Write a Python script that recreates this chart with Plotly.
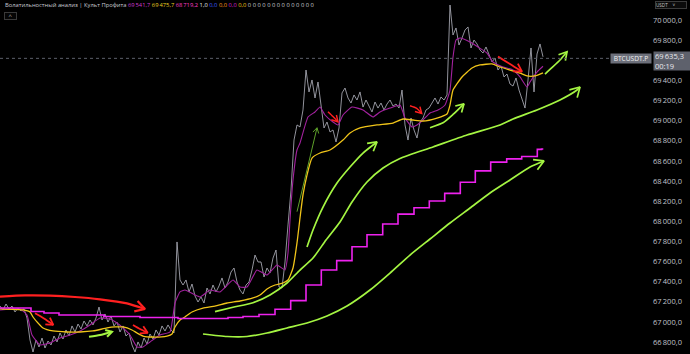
import math
import plotly.graph_objects as go

# ---------------- data ----------------
# BTCUSDT.P price, one sample every 3 minutes (t in minutes from the left edge)
price = [
    67158, 67119, 67178, 67129, 67158, 67099, 67138, 67109, 67129, 67039,
    66820, 66701, 66820, 66751, 66840, 66741, 66810, 66771, 66860, 66801,
    66890, 66830, 66920, 66860, 66960, 66900, 66979, 66930, 67009, 66960,
    67019, 66970, 67039, 67148, 67019, 67079, 66999, 67059, 66960, 66999,
    66900, 66960, 66860, 66890, 66771, 66701, 66801, 66741, 66840, 66781,
    66880, 66830, 66920, 66870, 66960, 66910, 66970, 66920, 66890, 67795,
    67417, 67367, 67417, 67298, 67377, 67258, 67198, 67248, 67188, 67337,
    67278, 67367, 67298, 67357, 67437, 67337, 67397, 67496, 67536, 67397,
    67317, 67278, 67367, 67397, 67516, 67665, 67596, 67596, 67447, 67536,
    67486, 67635, 67715, 67347, 67337, 67596, 67964, 68311, 68808, 68958,
    68938, 69107, 69504, 69286, 69405, 69226, 69385, 69156, 68928, 68987,
    68888, 68908, 68789, 68928, 69276, 69325, 69226, 69176, 69256, 69206,
    69286, 69136, 69206, 69146, 69087, 69186, 69126, 69176, 69107, 69166,
    69206, 69146, 69166, 69126, 69305, 68958, 68808, 69027, 68908, 68828,
    68987, 69027, 69107, 69126, 69176, 69226, 69166, 69236, 69206, 69256,
    70150, 69852, 69922, 69753, 69822, 69902, 69932, 69723, 69802, 69763,
    69703, 69673, 69733, 69653, 69584, 69623, 69504, 69544, 69435, 69464,
    69365, 69345, 69425, 69305, 69206, 69126, 69405, 69723, 69286, 69663,
    69763, 69635.3,
]
price_step = 3
price_t = [i * price_step for i in range(len(price))]

# purple moving average
ma_t = [0, 20, 27, 32, 40, 50, 60, 70, 80, 90, 100, 110, 117, 123, 130, 137, 143, 150, 160, 170,
        175, 180, 185, 200, 210, 220, 233, 240, 247, 257, 267, 277, 285, 288, 290, 293, 297, 300,
        308, 315, 320, 325, 333, 338, 343, 352, 363, 373, 380, 390, 400, 405, 412, 417, 423, 430,
        438, 445, 450, 453, 456, 460, 470, 478, 487, 493, 503, 513, 520, 527, 530, 537, 543]
ma_v = [67119, 67129, 67069, 66870, 66771, 66791, 66840, 66870, 66910, 66970, 67039, 67029, 66989,
        66940, 66870, 66751, 66751, 66801, 66870, 66900, 67188, 67298, 67317, 67248, 67317, 67298,
        67417, 67347, 67347, 67516, 67466, 67566, 67516, 67685, 68013, 68411, 68709, 68779, 69037,
        69087, 69136, 69057, 68987, 68958, 69057, 69136, 69107, 69037, 69087, 69126, 69156, 69027,
        68938, 68958, 69007, 69077, 69107, 69156, 69305, 69633, 69802, 69822, 69783, 69733, 69673,
        69584, 69534, 69504, 69435, 69335, 69385, 69484, 69541.7]

# yellow (VWAP-like) line
vw_t = [0, 23, 30, 33, 38, 43, 53, 67, 80, 93, 107, 115, 123, 132, 137, 143, 153, 167, 172, 175,
        180, 185, 192, 203, 215, 227, 240, 253, 260, 267, 275, 283, 288, 293, 297, 300, 303, 307,
        312, 320, 330, 343, 350, 360, 377, 393, 403, 413, 423, 437, 447, 450, 453, 462, 472, 480,
        492, 500, 510, 520, 527, 535, 543]
vw_v = [67129, 67119, 67099, 67049, 66989, 66940, 66910, 66900, 66900, 66910, 66940, 66950, 66950,
        66920, 66890, 66860, 66850, 66860, 66880, 66950, 67019, 67049, 67099, 67138, 67158, 67188,
        67208, 67238, 67268, 67327, 67367, 67387, 67417, 67536, 67785, 68033, 68262, 68460, 68629,
        68679, 68709, 68808, 68878, 68928, 68958, 68977, 69017, 69007, 68997, 69027, 69067, 69156,
        69305, 69435, 69524, 69554, 69564, 69534, 69504, 69474, 69445, 69445, 69475.7]

# magenta step line (value from each start time)
stair_t = [0, 31, 44, 59, 104, 140, 178, 228, 243, 259, 275, 290.7, 306, 321.3, 336.7, 352, 367,
           382.7, 398, 414, 429.3, 444.7, 460.3, 475.3, 490.7, 506.7, 521.7, 537.3, 541.5, 543.3]
stair_v = [67138, 67104, 67089, 67069, 67054, 67044, 67034, 67044, 67054, 67074, 67126, 67212,
           67367, 67516, 67609, 67748, 67867, 67973, 68072, 68135, 68202, 68278, 68389, 68501,
           68588, 68621, 68645, 68715, 68719.2, 68719.2]

# hand drawn arrows (t, price)
red_1 = ([0, 25, 50, 75, 100, 127, 145], [67251, 67263, 67261, 67248, 67225, 67185, 67128])
red_2 = ([35, 44, 53.3], [67086, 67034, 66970])
red_3 = ([133, 140, 147.7], [66970, 66930, 66892])
red_4 = ([328, 333, 338], [69090, 69042, 68989])
red_5 = ([410, 416.7, 421.7], [69149, 69123, 69073])
red_6 = ([498, 510, 522], [69637, 69564, 69488])
green_1 = ([89, 100, 112], [66853, 66870, 66903])
green_2 = ([203, 227, 247, 267, 287, 307, 327, 347, 370, 390, 410, 430, 450, 470, 490, 510, 530, 544],
           [66880, 66855, 66855, 66890, 66940, 66989, 67059, 67158, 67317, 67486, 67665, 67824,
            67983, 68132, 68282, 68411, 68540, 68600])
green_3 = ([215, 233, 253, 270, 287, 300, 313, 326, 340, 352, 367, 383, 400, 433, 467, 500, 513,
            537, 560, 577, 580],
           [67102, 67146, 67191, 67268, 67387, 67516, 67635, 67814, 67993, 68192, 68391, 68530,
            68625, 68739, 68858, 68958, 69017, 69107, 69206, 69305, 69335])
green_4 = ([307, 313, 323, 337, 350, 363, 377], [67745, 67914, 68142, 68381, 68540, 68679, 68789])
green_5 = ([297, 317], [68096, 68930])
green_6 = ([430, 443, 453, 464], [68930, 68979, 69062, 69168])
green_7 = ([545, 553, 560, 567], [69464, 69537, 69604, 69686])

# legend values
legend_title = "Волатильностный анализ | Культ Профита"
legend_values = [69541.7, 69475.7, 68719.2, 1.0, 0.0, 0.0, 0.0, 0.0]
legend_colors = ["#d03ad0", "#f0d020", "#ff3fc8", "#e8e8e8", "#3a5cff", "#ff9a1a", "#d020d0", "#f0c419"]
legend_zero_count = 14

tick_vals = [v for v in range(66800, 70001, 200) if v != 69600]
last_price = 69635.3
countdown = "00:19"
symbol = "BTCUSDT.P"

# ---------------- layout helpers ----------------
W, H = 690, 354
plot_w = 652
t_range = [0, 652]
y_range = [66681.2, 70200]
k = H / (y_range[1] - y_range[0])


def fmt(v, dec=1):
    s = f"{v:,.{dec}f}"
    return s.replace(",", "\u2009").replace(".", ",")


def head(ts, vs, L=8.0, ang=30):
    x1, y1 = ts[-1], (y_range[1] - vs[-1]) * k
    x0, y0 = ts[-2], (y_range[1] - vs[-2]) * k
    dx, dy = x1 - x0, y1 - y0
    n = math.hypot(dx, dy) or 1
    dx, dy = dx / n, dy / n
    out_t, out_v = [], []
    for s in (1, -1):
        a = math.radians(ang) * s
        rx = dx * math.cos(a) - dy * math.sin(a)
        ry = dx * math.sin(a) + dy * math.cos(a)
        out_t.append(x1 - L * rx)
        out_v.append(y_range[1] - (y1 - L * ry) / k)
    return [out_t[0], x1, out_t[1]], [out_v[0], vs[-1], out_v[1]]


fig = go.Figure()

fig.add_trace(go.Scatter(x=price_t, y=price, mode="lines",
                         line=dict(color="rgba(170,172,182,0.85)", width=1)))
fig.add_trace(go.Scatter(x=ma_t, y=ma_v, mode="lines",
                         line=dict(color="#a3229f", width=1.1, shape="spline", smoothing=0.4)))
fig.add_trace(go.Scatter(x=vw_t, y=vw_v, mode="lines",
                         line=dict(color="#f0c419", width=1.3, shape="spline", smoothing=0.5)))
fig.add_trace(go.Scatter(x=stair_t, y=stair_v, mode="lines",
                         line=dict(color="#ee22ee", width=1.6, shape="hv")))

for arr, col, w, L in [(red_1, "#ff2020", 2.2, 11), (red_2, "#ff2020", 1.8, 8), (red_3, "#ff2020", 1.8, 8),
                       (red_4, "#ff2020", 1.5, 7), (red_5, "#ff2020", 1.5, 7), (red_6, "#ff2020", 1.8, 9),
                       (green_1, "#a4f542", 2.0, 7), (green_2, "#a4f542", 1.7, 11),
                       (green_3, "#a4f542", 1.7, 11), (green_4, "#a4f542", 1.7, 10),
                       (green_5, "#5ea12a", 1.0, 6), (green_6, "#a4f542", 1.7, 9),
                       (green_7, "#a4f542", 1.7, 9)]:
    ts, vs = arr
    fig.add_trace(go.Scatter(x=ts, y=vs, mode="lines",
                             line=dict(color=col, width=w, shape="spline", smoothing=0.6)))
    ht, hv = head(ts, vs, L=L)
    fig.add_trace(go.Scatter(x=ht, y=hv, mode="lines", line=dict(color=col, width=w)))

# last price dashed line
fig.add_shape(type="line", x0=0, x1=611, y0=69620, y1=69620, xref="x", yref="y",
              line=dict(color="#5c5f6a", width=1, dash="3px,3px"))

legend_html = legend_title + " " + " ".join(
    f"<span style='color:{c}'>{fmt(v)}</span>" for v, c in zip(legend_values, legend_colors)
) + " " + " ".join(["0"] * legend_zero_count)

annotations = [
    dict(xref="paper", yref="paper", x=3 / plot_w, y=1 - 5.5 / H, xanchor="left", yanchor="middle",
         text=legend_html, showarrow=False, font=dict(size=5.8, color="#c8cad2")),
    dict(xref="paper", yref="paper", x=3.5 / plot_w, y=1 - 16.5 / H, xanchor="left", yanchor="middle",
         text="^", showarrow=False, font=dict(size=6, color="#b0b0b0"), width=11, height=6,
         bordercolor="#3a3a3a", borderwidth=1, borderpad=0, bgcolor="#050505"),
    dict(xref="paper", yref="y", x=651.5 / plot_w, y=69621, xanchor="right", yanchor="middle",
         text=symbol, showarrow=False, font=dict(size=6.6, color="#f2f2f2"),
         bgcolor="#6c6f7a", width=38, height=7, borderpad=1),
    dict(xref="paper", yref="y", x=653 / plot_w, y=69592, xanchor="left", yanchor="middle",
         text=fmt(last_price) + "<br>" + countdown, showarrow=False, align="left",
         font=dict(size=7.5, color="#e8e8ec"), bgcolor="#5e616c", width=35, height=16, borderpad=1),
    dict(xref="paper", yref="paper", x=655 / plot_w, y=1 - 5.5 / H, xanchor="left", yanchor="middle",
         text="USDT    ˅", showarrow=False, align="left", font=dict(size=4.6, color="#c8c8c8"),
         bordercolor="#3c3c3c", borderwidth=1, width=30, height=6, borderpad=0, bgcolor="#0b0b0b"),
]

fig.update_layout(
    width=W, height=H,
    margin=dict(l=0, r=W - plot_w, t=0, b=0),
    paper_bgcolor="#000000", plot_bgcolor="#000000",
    showlegend=False,
    font=dict(family="Open Sans, Roboto, sans-serif"),
    xaxis=dict(range=t_range, visible=False, fixedrange=True),
    yaxis=dict(range=y_range, side="right", showgrid=False, zeroline=False, ticks="",
               tickvals=tick_vals, ticktext=[fmt(v) for v in tick_vals],
               tickfont=dict(size=7.5, color="#c0c3cb"), showline=False, fixedrange=True),
    annotations=annotations,
)

fig.write_html("out.html")
